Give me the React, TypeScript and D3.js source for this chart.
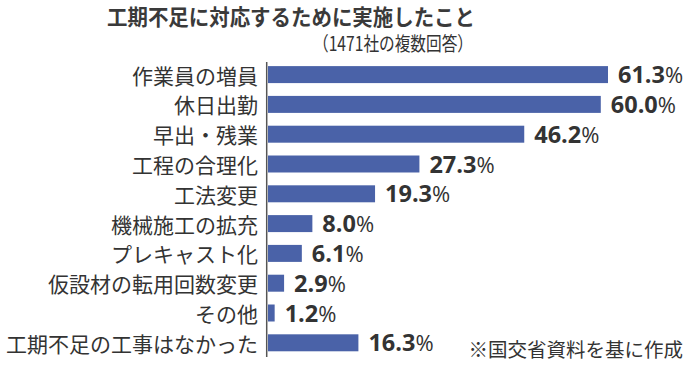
import React from "react";
import * as d3 from "d3";

const categories = [
  "作業員の増員",
  "休日出勤",
  "早出・残業",
  "工程の合理化",
  "工法変更",
  "機械施工の拡充",
  "プレキャスト化",
  "仮設材の転用回数変更",
  "その他",
  "工期不足の工事はなかった",
];
const values = [61.3, 60.0, 46.2, 27.3, 19.3, 8.0, 6.1, 2.9, 1.2, 16.3];
const title = "工期不足に対応するために実施したこと";
const subtitle = "（1471社の複数回答）";
const source = "※国交省資料を基に作成";

const W = 687;
const H = 367;
const JP = "'Noto Sans CJK JP', 'Noto Sans', sans-serif";
const NUM = "'Open Sans', 'Noto Sans', sans-serif";
const BAR = "#4a62a8";
const TXT = "#333333";

export default function App() {
  const x = d3.scaleLinear().domain([0, 61.3]).range([268, 608]);
  const y = d3.scaleBand<string>().domain(categories).range([59.7, 357.7]).padding(0);
  const bh = y.bandwidth() * 0.57;

  return (
    <svg width={W} height={H} style={{ display: "block", position: "absolute", left: 0, top: 0, background: "#fff" }}>
      <text x={291} y={24.5} textAnchor="middle" fontFamily={JP} fontWeight="bold" fontSize={21.5}
        fill="#3a3a3a" textLength={368} lengthAdjust="spacingAndGlyphs">{title}</text>
      <text x={473} y={50.5} textAnchor="end" fontFamily={JP} fontSize={19.5} fill={TXT}
        textLength={160} lengthAdjust="spacingAndGlyphs">{subtitle}</text>
      <line x1={266.7} x2={266.7} y1={62} y2={357} stroke="#555" strokeWidth={1.5} />
      {categories.map((c, i) => {
        const cy = (y(c) as number) + y.bandwidth() / 2;
        const v = values[i];
        return (
          <g key={c}>
            <text x={258} y={cy} dominantBaseline="central" textAnchor="end" fontFamily={JP}
              fontSize={21} fill={TXT}>{c}</text>
            <rect x={x(0)} y={cy - bh / 2} width={x(v) - x(0)} height={bh} fill={BAR} />
            <text x={x(v) + 10} y={cy + 8.5} fontFamily={NUM} fill={TXT}>
              <tspan fontWeight="bold" fontSize={23.5}>{v.toFixed(1)}</tspan>
              <tspan fontSize={22}>%</tspan>
            </text>
          </g>
        );
      })}
      <text x={683} y={357} textAnchor="end" fontFamily={JP} fontSize={19.5} fill={TXT}>{source}</text>
    </svg>
  );
}
